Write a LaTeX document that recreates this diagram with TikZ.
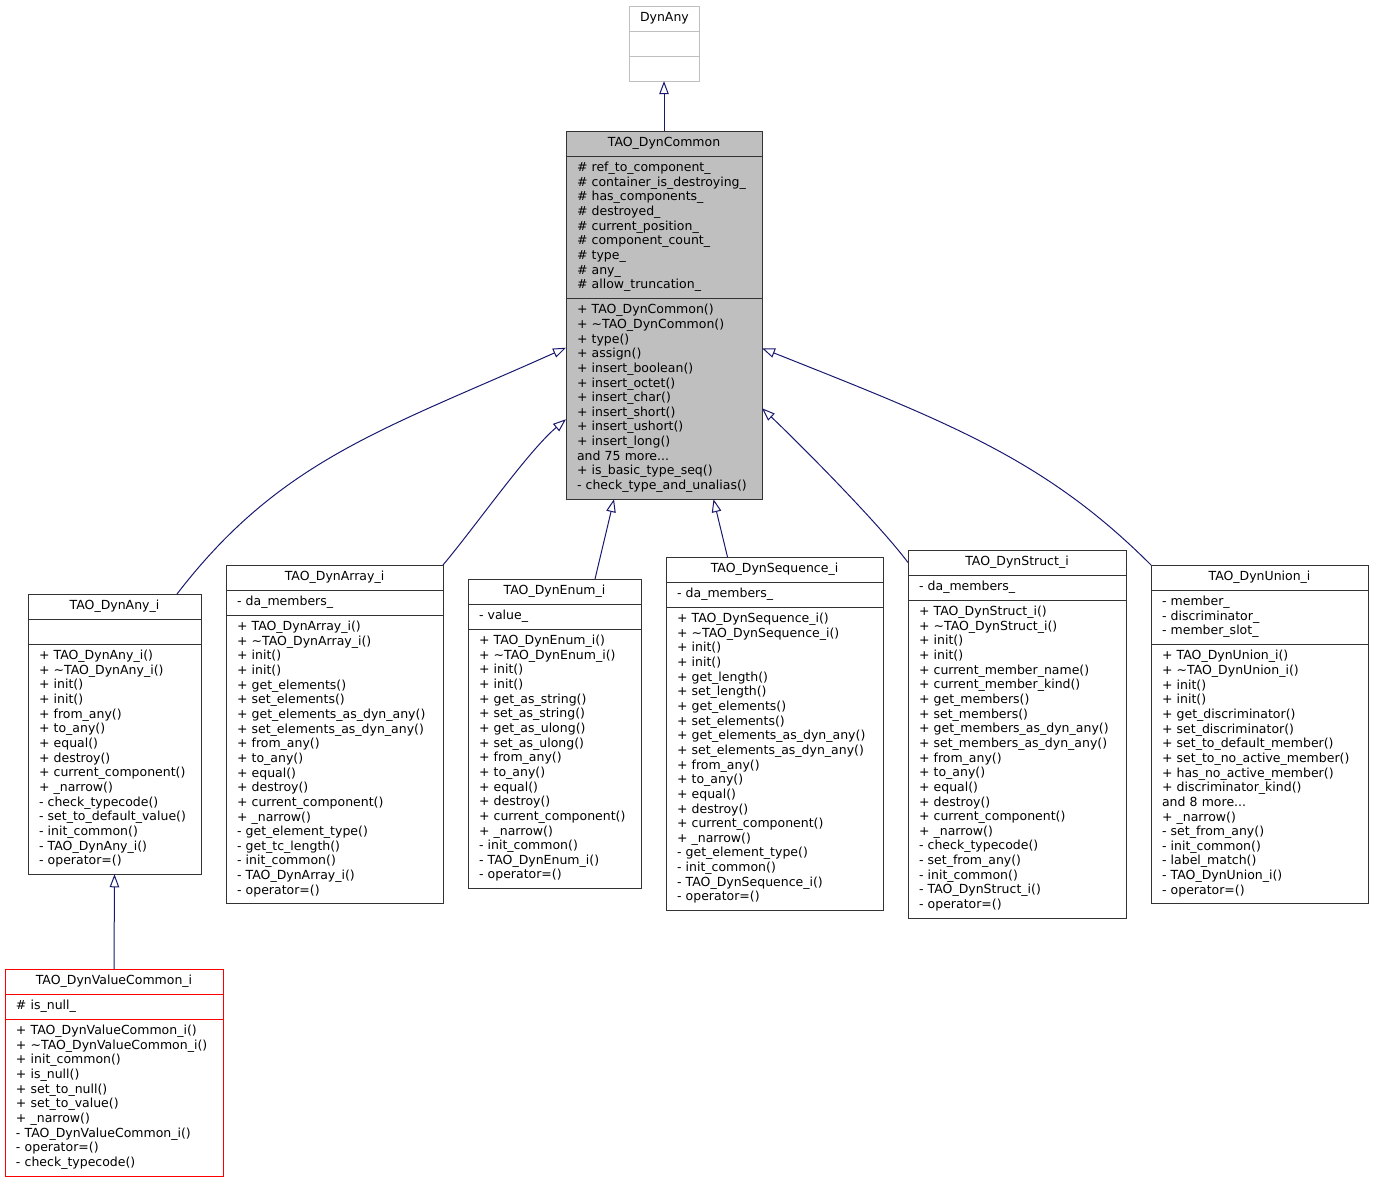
\documentclass[tikz,border=0pt]{standalone}
\usepackage{fontspec}
\usetikzlibrary{arrows.meta}
\usetikzlibrary{positioning}
\newfontfamily\classfont{DejaVu Sans}
\definecolor{edgeblue}{RGB}{25,25,112}
\definecolor{boxgray}{RGB}{191,191,191}

\tikzset{
	classpart/.style={draw=black!80, line width=1pt, fill=white, outer sep=0pt,
		inner xsep=11pt, inner ysep=5.2pt, align=left,
		font=\classfont\fontsize{12.5}{14.65}\selectfont,
		execute at begin node=\strut, execute at end node=\strut},
	inherit/.style={draw=edgeblue, line width=1pt, -{Triangle[open,length=13pt,width=9.5pt]}},
}

\newcommand{\umlclass}[8]{% name, style, x, y, width, title, attributes, operations
	\pgfmathsetmacro{\classwidth}{#5 - 22}
	\node[classpart, #2, align=center, text width=\classwidth pt, anchor=north west] (#1) at (#3, #4) {#6};
	\node[classpart, #2, text width=\classwidth pt, below=0pt of #1] (#1attr) {#7};
	\node[classpart, #2, text width=\classwidth pt, below=0pt of #1attr] (#1ops) {#8};
}

\begin{document}
\begin{tikzpicture}[x=1pt, y=-1pt]

\useasboundingbox (0, 0) rectangle (1373, 1184);

\umlclass{dynany}{draw=boxgray}{629}{6}{70}{DynAny}{}{}

\umlclass{dyncommon}{fill=boxgray}{566}{131}{196}{TAO\_DynCommon}
{\# ref\_to\_component\_\\
\# container\_is\_destroying\_\\
\# has\_components\_\\
\# destroyed\_\\
\# current\_position\_\\
\# component\_count\_\\
\# type\_\\
\# any\_\\
\# allow\_truncation\_}
{+ TAO\_DynCommon()\\
+ \textasciitilde TAO\_DynCommon()\\
+ type()\\
+ assign()\\
+ insert\_boolean()\\
+ insert\_octet()\\
+ insert\_char()\\
+ insert\_short()\\
+ insert\_ushort()\\
+ insert\_long()\\
and 75 more...\\
+ is\_basic\_type\_seq()\\
- check\_type\_and\_unalias()}

\umlclass{dynanyi}{}{28}{594}{173}{TAO\_DynAny\_i}{}
{+ TAO\_DynAny\_i()\\
+ \textasciitilde TAO\_DynAny\_i()\\
+ init()\\
+ init()\\
+ from\_any()\\
+ to\_any()\\
+ equal()\\
+ destroy()\\
+ current\_component()\\
+ \_narrow()\\
- check\_typecode()\\
- set\_to\_default\_value()\\
- init\_common()\\
- TAO\_DynAny\_i()\\
- operator=()}

\umlclass{dynarrayi}{}{226}{565}{217}{TAO\_DynArray\_i}{- da\_members\_}
{+ TAO\_DynArray\_i()\\
+ \textasciitilde TAO\_DynArray\_i()\\
+ init()\\
+ init()\\
+ get\_elements()\\
+ set\_elements()\\
+ get\_elements\_as\_dyn\_any()\\
+ set\_elements\_as\_dyn\_any()\\
+ from\_any()\\
+ to\_any()\\
+ equal()\\
+ destroy()\\
+ current\_component()\\
+ \_narrow()\\
- get\_element\_type()\\
- get\_tc\_length()\\
- init\_common()\\
- TAO\_DynArray\_i()\\
- operator=()}

\umlclass{dynenumi}{}{468}{579}{173}{TAO\_DynEnum\_i}{- value\_}
{+ TAO\_DynEnum\_i()\\
+ \textasciitilde TAO\_DynEnum\_i()\\
+ init()\\
+ init()\\
+ get\_as\_string()\\
+ set\_as\_string()\\
+ get\_as\_ulong()\\
+ set\_as\_ulong()\\
+ from\_any()\\
+ to\_any()\\
+ equal()\\
+ destroy()\\
+ current\_component()\\
+ \_narrow()\\
- init\_common()\\
- TAO\_DynEnum\_i()\\
- operator=()}

\umlclass{dynsequencei}{}{666}{557}{217}{TAO\_DynSequence\_i}{- da\_members\_}
{+ TAO\_DynSequence\_i()\\
+ \textasciitilde TAO\_DynSequence\_i()\\
+ init()\\
+ init()\\
+ get\_length()\\
+ set\_length()\\
+ get\_elements()\\
+ set\_elements()\\
+ get\_elements\_as\_dyn\_any()\\
+ set\_elements\_as\_dyn\_any()\\
+ from\_any()\\
+ to\_any()\\
+ equal()\\
+ destroy()\\
+ current\_component()\\
+ \_narrow()\\
- get\_element\_type()\\
- init\_common()\\
- TAO\_DynSequence\_i()\\
- operator=()}

\umlclass{dynstructi}{}{908}{550}{218}{TAO\_DynStruct\_i}{- da\_members\_}
{+ TAO\_DynStruct\_i()\\
+ \textasciitilde TAO\_DynStruct\_i()\\
+ init()\\
+ init()\\
+ current\_member\_name()\\
+ current\_member\_kind()\\
+ get\_members()\\
+ set\_members()\\
+ get\_members\_as\_dyn\_any()\\
+ set\_members\_as\_dyn\_any()\\
+ from\_any()\\
+ to\_any()\\
+ equal()\\
+ destroy()\\
+ current\_component()\\
+ \_narrow()\\
- check\_typecode()\\
- set\_from\_any()\\
- init\_common()\\
- TAO\_DynStruct\_i()\\
- operator=()}

\umlclass{dynunioni}{}{1151}{565}{217}{TAO\_DynUnion\_i}
{- member\_\\
- discriminator\_\\
- member\_slot\_}
{+ TAO\_DynUnion\_i()\\
+ \textasciitilde TAO\_DynUnion\_i()\\
+ init()\\
+ init()\\
+ get\_discriminator()\\
+ set\_discriminator()\\
+ set\_to\_default\_member()\\
+ set\_to\_no\_active\_member()\\
+ has\_no\_active\_member()\\
+ discriminator\_kind()\\
and 8 more...\\
+ \_narrow()\\
- set\_from\_any()\\
- init\_common()\\
- label\_match()\\
- TAO\_DynUnion\_i()\\
- operator=()}

\umlclass{dynvaluecommoni}{draw=red}{5}{969}{218}{TAO\_DynValueCommon\_i}{\# is\_null\_}
{+ TAO\_DynValueCommon\_i()\\
+ \textasciitilde TAO\_DynValueCommon\_i()\\
+ init\_common()\\
+ is\_null()\\
+ set\_to\_null()\\
+ set\_to\_value()\\
+ \_narrow()\\
- TAO\_DynValueCommon\_i()\\
- operator=()\\
- check\_typecode()}

% generalisations, tip at the base class
\draw[inherit] (dyncommon.north) -- (dynanyops.south);
\draw[inherit] ([xshift=-24pt]dynanyi.north east) .. controls +(103,-134) and +(-183,82) .. ([yshift=51pt]dyncommonops.west);
\draw[inherit] (dynarrayi.north east) .. controls +(32,-38) and +(-38,32) .. ([yshift=-20.5pt]dyncommonops.west);
\draw[inherit] ([xshift=40.5pt]dynenumi.north) -- ([xshift=-50pt]dyncommonops.south);
\draw[inherit] ([xshift=-47pt]dynsequencei.north) -- ([xshift=49.5pt]dyncommonops.south);
\draw[inherit] (dynstructi.west) .. controls +(-30,-40) and +(35,33) .. ([yshift=-9.5pt]dyncommonops.east);
\draw[inherit] (dynunioni.north west) .. controls +(-106,-106) and +(186,74) .. ([yshift=50.5pt]dyncommonops.east);
\draw[inherit] (dynvaluecommoni.north) -- (dynanyiops.south);

\end{tikzpicture}
\end{document}
